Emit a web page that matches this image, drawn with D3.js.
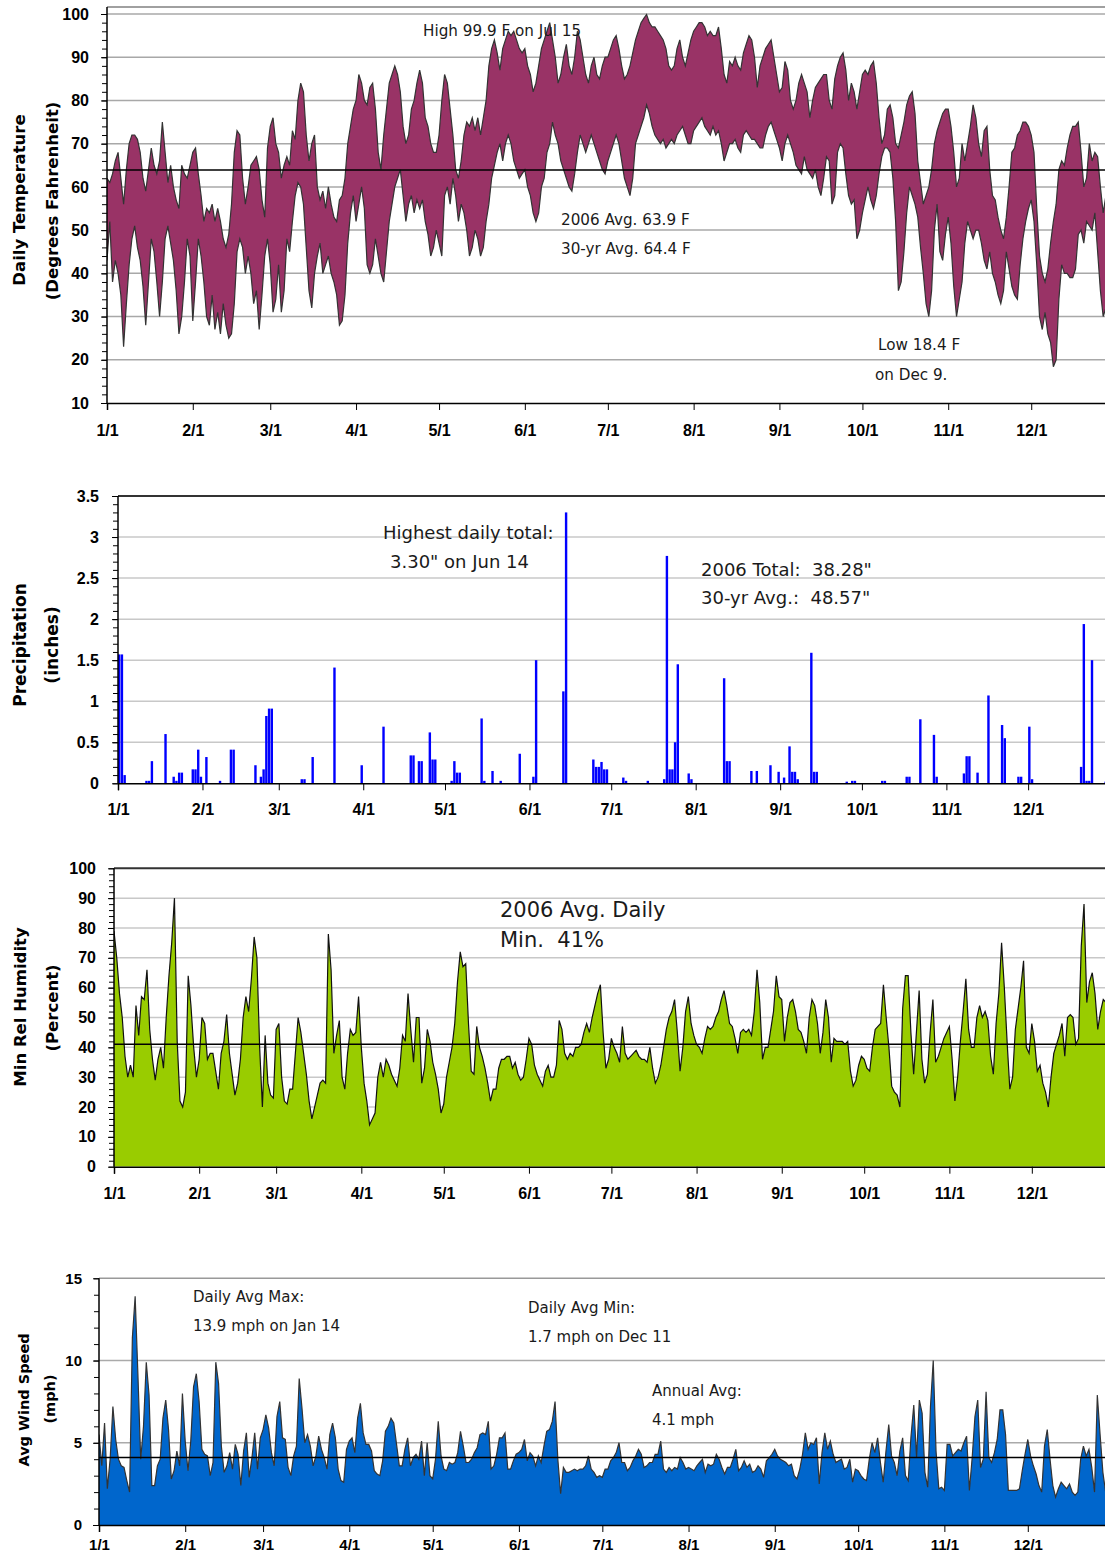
<!DOCTYPE html>
<html>
<head>
<meta charset="utf-8">
<script src="https://cdn.jsdelivr.net/npm/d3@7"></script>
<style>
  body { margin: 0; background: #fff; }
  svg { display: block; }
  .tick text { font-family: "Liberation Sans", Arial, sans-serif; font-weight: bold; fill: #000; }
  .note { font-family: "DejaVu Sans", Verdana, sans-serif; fill: #1a1a1a; white-space: pre; }
  .title { font-family: "DejaVu Sans", Verdana, sans-serif; font-weight: bold; fill: #000; }
</style>
</head>
<body>
<svg id="chart" width="1105" height="1556"></svg>
<script>
// ---- data (2006, one value per day) ----
const monthLabels = ["1/1","2/1","3/1","4/1","5/1","6/1","7/1","8/1","9/1","10/1","11/1","12/1"];

const tempHigh = [
  62,61,63,66,68,62,56,64,70,72,72,71,68,62,59,64,69,65,63,66,75,68,61,65,60,57,55,65,63,62,65,
  68,69,63,58,52,55,54,56,52,55,52,48,46,49,56,68,73,72,62,56,60,65,66,67,64,57,53,69,
  74,76,70,68,62,65,67,65,73,71,80,84,82,72,66,70,72,60,57,59,55,60,56,53,52,57,58,62,70,74,78,
  80,86,84,80,79,83,84,78,68,64,72,78,84,86,88,86,82,74,70,72,78,80,84,87,84,76,74,70,68,68,
  72,80,86,84,78,72,64,62,66,72,75,74,76,73,76,72,76,80,88,92,94,91,87,92,94,96,95,96,94,92,91,
  92,88,86,82,84,88,92,94,96,98,94,90,84,86,90,93,88,86,90,96,94,90,86,84,88,90,86,85,88,90,
  90,92,94,95,92,88,85,86,88,91,94,96,98,99,99.9,98,97,97,96,95,94,92,88,87,88,92,94,90,88,91,94,
  96,97,98,98,97,95,96,95,95,97,92,86,84,89,88,90,88,87,91,93,95,94,90,83,88,90,92,93,94,90,86,
  82,83,89,87,80,78,80,84,86,84,82,76,80,83,84,85,86,86,80,78,85,88,90,91,87,80,84,82,78,82,
  86,87,86,88,89,84,76,70,72,78,79,76,70,69,72,75,79,81,82,77,66,61,56,58,60,64,70,73,75,77,78,
  78,74,68,60,62,70,66,70,74,79,76,70,67,73,74,64,58,57,53,50,48,53,60,68,69,72,73,75,75,74,
  72,68,55,44,40,38,41,47,52,56,64,66,65,69,72,74,74,75,68,60,62,70,66,68,67,60,54,58,62,60,57
];
const tempLow = [
  43,52,38,43,40,35,23,33,42,48,51,46,43,37,28,38,48,45,38,30,38,48,51,47,43,36,26,30,38,48,44,
  29,38,48,44,38,30,28,35,27,31,26,33,28,25,26,33,45,48,46,40,44,40,33,36,27,35,44,48,
  42,31,34,42,31,36,48,45,52,58,61,60,56,46,36,32,40,44,47,40,42,44,40,38,35,28,29,35,47,54,58,
  52,56,60,55,42,40,42,48,44,40,38,45,52,56,60,62,64,58,52,56,58,54,57,55,57,52,49,44,46,50,
  47,44,58,60,56,62,58,52,56,54,50,44,46,50,48,44,46,52,56,62,65,68,70,66,70,72,70,66,64,62,63,
  64,60,58,54,52,54,60,62,68,70,75,72,70,66,64,62,60,59,63,68,72,70,68,70,72,70,68,66,64,63,
  66,68,70,72,70,66,62,60,58,62,70,72,74,76,79,77,74,72,71,70,71,69,70,71,70,72,73,74,72,70,70,
  73,74,75,76,74,73,72,74,72,73,70,66,68,70,70,71,69,68,72,73,72,71,71,70,69,69,72,74,75,73,71,
  69,66,70,72,70,68,65,64,63,67,64,63,62,64,60,58,62,67,66,56,58,68,70,69,63,58,56,57,48,50,
  54,57,60,57,55,58,63,67,69,69,68,62,52,36,38,45,54,60,58,56,53,46,40,33,30,36,50,56,45,43,49,
  53,47,37,30,34,38,47,52,50,48,50,50,47,43,41,45,40,38,35,33,36,45,41,37,35,34,42,48,52,55,
  57,52,42,30,27,31,26,24,18.4,20,34,42,40,40,39,39,41,49,50,47,52,51,50,54,45,36,30,32,38,44,46
];
const tempAvg = 63.9;

const precipDates = [
  "1/1","1/2","1/3","1/11","1/12","1/13","1/18","1/21","1/22","1/23","1/24","1/28","1/29","1/30","1/31",
  "2/2","2/7","2/11","2/12","2/20","2/22","2/23","2/24","2/25","2/26",
  "3/9","3/10","3/13","3/21","3/31",
  "4/8","4/18","4/19","4/21","4/22","4/25","4/26","4/27",
  "5/3","5/4","5/5","5/6","5/14","5/15","5/18","5/21","5/28",
  "6/2","6/3","6/13","6/14","6/24","6/25","6/26","6/27","6/28","6/29",
  "7/5","7/6","7/14","7/20","7/21","7/22","7/23","7/24","7/25","7/29","7/30",
  "8/11","8/12","8/13","8/21","8/23","8/28","8/31",
  "9/2","9/4","9/5","9/6","9/7","9/12","9/13","9/14","9/25","9/27","9/28",
  "10/8","10/9","10/17","10/18","10/22","10/27","10/28",
  "11/7","11/8","11/9","11/12","11/16","11/21","11/22","11/27","11/28",
  "12/1","12/2","12/20","12/21","12/22","12/23","12/24","12/29"
];
const precipInches = [
  1.57,1.57,0.10,0.03,0.03,0.27,0.60,0.08,0.03,0.13,0.13,0.17,0.17,0.41,0.08,
  0.32,0.03,0.41,0.41,0.22,0.08,0.17,0.82,0.91,0.91,
  0.05,0.05,0.32,1.41,0.22,
  0.69,0.34,0.34,0.27,0.27,0.62,0.29,0.29,
  0.03,0.27,0.13,0.13,0.79,0.03,0.15,0.03,0.36,
  0.08,1.50,1.12,3.30,0.29,0.20,0.20,0.26,0.17,0.17,
  0.07,0.03,0.03,0.05,2.77,0.17,0.17,0.50,1.45,0.12,0.05,
  1.28,0.27,0.27,0.15,0.15,0.22,0.14,
  0.07,0.45,0.14,0.14,0.05,1.59,0.14,0.14,0.02,0.03,0.03,
  0.03,0.03,0.08,0.08,0.78,0.59,0.08,
  0.12,0.33,0.33,0.13,1.07,0.71,0.55,0.08,0.08,
  0.69,0.05,0.20,1.94,0.03,0.03,1.50,0.02
];
const precipTicks = [0, 0.5, 1, 1.5, 2, 2.5, 3, 3.5];
const precipTickLabels = ["0", "0.5", "1", "1.5", "2", "2.5", "3", "3.5"];

const minHumidity = [
  79,70,58,50,37,30,34,30,54,44,57,56,66,46,36,29,36,40,33,50,64,75,90,42,22,20,25,64,54,40,30,
  36,50,48,36,38,38,32,26,38,42,51,38,31,24,28,36,50,57,52,63,77,70,40,20,44,28,24,23,
  46,48,30,22,21,26,26,38,50,45,38,31,22,16,20,24,28,29,28,78,66,38,44,49,30,26,38,46,44,45,57,
  40,28,22,14,16,18,30,35,30,36,34,31,29,27,33,44,42,58,46,35,50,50,28,33,46,42,35,31,26,18,
  21,30,35,40,48,62,72,67,68,48,32,31,47,40,37,33,28,22,26,26,33,36,36,37,37,33,35,31,29,30,36,
  43,41,34,31,29,27,32,34,30,30,34,49,46,38,36,38,37,40,40,41,45,48,45,50,54,58,61,45,33,36,
  43,40,38,35,47,38,36,37,38,39,37,36,36,35,40,33,28,30,34,40,46,50,52,56,45,32,40,52,57,48,44,
  41,40,38,43,47,46,47,50,52,56,59,54,48,47,43,38,45,46,45,46,44,52,66,55,36,40,40,46,52,64,57,
  56,42,50,55,56,52,46,45,42,38,50,56,54,48,38,45,56,50,35,43,42,42,42,41,42,32,27,29,34,37,
  36,33,32,40,46,47,48,61,50,40,27,25,24,20,53,64,64,45,31,45,59,36,28,31,45,56,35,37,40,43,45,
  47,36,22,30,42,52,63,46,40,40,50,54,50,52,49,37,31,48,58,75,60,42,26,30,46,53,60,69,40,38,
  48,42,32,34,28,25,20,30,38,41,44,48,37,50,51,50,41,43,74,88,55,62,65,58,46,52,56,55,50,48,52
];
const humidityAvg = 41;

const windSpeed = [
  5.5,3.6,6.2,2.2,4.0,7.2,5.2,4.0,3.6,3.5,2.7,2.0,11.4,13.9,9.1,4.0,6.0,9.9,7.9,2.4,2.4,3.6,4.0,6.5,7.6,5.8,2.8,3.3,4.5,3.6,8.0,
  5.1,3.3,5.1,8.4,9.2,7.5,4.6,4.3,4.2,3.0,3.8,9.9,8.6,4.8,3.2,3.6,4.4,3.4,4.9,4.3,2.4,4.5,5.6,2.9,4.1,5.6,3.4,5.3,
  5.8,6.7,5.9,4.4,3.6,6.6,7.5,5.3,5.2,3.5,3.0,4.2,4.8,8.9,7.1,5.0,5.5,4.8,3.6,4.2,5.4,4.6,4.1,3.4,5.5,6.2,5.3,3.4,2.7,2.6,4.6,
  5.1,5.3,4.4,6.5,7.4,5.6,4.9,4.9,4.5,3.3,3.1,3.0,3.9,5.7,6.0,6.5,6.2,4.9,3.6,3.6,4.6,5.3,3.6,4.1,4.3,4.0,5.1,3.0,5.0,3.0,
  2.8,4.0,6.3,4.2,3.4,3.3,3.8,3.7,3.8,4.4,5.7,4.8,3.8,3.8,4.0,4.4,4.7,5.5,5.6,5.5,6.3,3.4,3.6,4.3,5.3,5.3,5.6,3.4,3.4,3.9,4.3,
  4.4,4.6,5.2,3.9,4.4,4.2,3.6,4.2,3.8,4.8,5.7,5.8,6.3,7.5,4.0,1.9,3.5,3.2,3.2,3.3,3.4,3.3,3.4,3.4,3.6,4.2,3.4,3.2,2.9,3.0,
  2.9,3.4,3.4,3.9,4.1,4.4,5.0,3.8,3.8,3.3,3.5,3.9,4.2,4.6,4.3,3.5,3.6,3.8,3.8,4.3,4.3,5.1,3.4,3.2,3.5,3.3,3.5,3.4,4.1,3.8,3.4,
  3.5,3.4,3.3,3.6,3.8,4.0,3.2,3.7,3.6,3.7,4.3,4.0,3.5,3.1,3.5,3.5,4.0,4.6,3.3,3.5,3.9,3.5,3.7,3.2,3.3,3.6,3.4,2.9,3.9,4.1,4.3,
  4.6,4.2,4.0,3.9,3.8,3.6,3.7,3.0,2.8,3.4,4.3,5.6,4.6,5.0,4.9,5.3,2.5,4.4,5.6,4.6,5.1,4.3,3.8,3.9,4.0,3.4,3.5,4.0,2.6,3.4,
  3.3,3.0,2.8,2.7,4.0,5.0,4.4,5.3,3.8,2.6,4.5,6.1,4.2,3.8,3.0,4.5,5.3,3.0,2.7,5.4,7.3,4.1,7.6,6.8,3.2,2.3,7.2,10.0,4.5,2.2,2.3,
  2.1,4.9,4.9,4.2,4.4,4.6,4.5,5.0,5.4,2.1,4.1,6.6,7.6,3.5,4.0,8.1,4.1,3.8,4.4,5.2,7.0,7.0,5.5,2.1,2.1,2.1,2.1,2.2,3.3,4.3,
  5.2,4.2,3.6,3.1,2.4,2.0,4.8,5.8,4.0,2.4,1.7,2.2,2.6,2.4,2.2,2.5,2.0,1.8,2.0,4.0,4.8,4.2,4.6,3.5,2.0,7.9,5.5,3.2,2.0,2.5,3.0
];
const windAvg = 4.1;

// ---- drawing ----
const W = 1105;
const t0 = new Date(2006, 0, 1), t1 = new Date(2007, 0, 1);
const days = d3.timeDay.range(t0, t1);
const monthStarts = d3.timeMonth.range(t0, t1);
const parseDay = (s) => { const [m, d] = s.split("/"); return new Date(2006, +m - 1, +d); };
const seriesPoints = (vals) => days.map((d, i) => ({ date: d, v: vals[i] }));

const svg = d3.select("#chart");
svg.append("rect").attr("width", W).attr("height", 1556).attr("fill", "#fff");

function makePanel(cfg) {
  const x = d3.scaleTime().domain([t0, t1]).range([cfg.left, cfg.right]);
  const y = d3.scaleLinear().domain(cfg.domain).range([cfg.bottom, cfg.top]);
  const g = svg.append("g");

  svg.append("clipPath").attr("id", "clip-" + cfg.name)
    .append("rect")
    .attr("x", cfg.left).attr("y", cfg.frameTop)
    .attr("width", W - cfg.left).attr("height", cfg.bottom - cfg.frameTop);

  g.append("g").selectAll("line")
    .data(cfg.grid)
    .join("line")
    .attr("x1", cfg.left).attr("x2", W)
    .attr("y1", (d) => y(d)).attr("y2", (d) => y(d))
    .attr("stroke", cfg.gridColor)
    .attr("stroke-width", 1.5);

  g.append("line")
    .attr("x1", cfg.left).attr("x2", W)
    .attr("y1", cfg.frameTop).attr("y2", cfg.frameTop)
    .attr("stroke", cfg.frameColor)
    .attr("stroke-width", cfg.frameWidth);

  const plot = g.append("g").attr("clip-path", `url(#clip-${cfg.name})`);
  return { cfg, g, plot, x, y };
}

function finishPanel(p, avg) {
  const { cfg, g, x, y } = p;
  if (avg !== undefined) {
    g.append("line")
      .attr("x1", cfg.left).attr("x2", W)
      .attr("y1", y(avg)).attr("y2", y(avg))
      .attr("stroke", "#000").attr("stroke-width", 1.5);
  }

  // minor ticks
  g.append("g")
    .attr("transform", `translate(${cfg.left},0)`)
    .call(d3.axisLeft(y).tickValues(d3.range(cfg.domain[0], cfg.domain[1] + 1e-9, cfg.minorStep)).tickSize(5).tickFormat(""))
    .call((a) => a.select(".domain").remove())
    .call((a) => a.selectAll("line").attr("stroke", "#000"));

  // labelled ticks
  g.append("g")
    .attr("transform", `translate(${cfg.left},0)`)
    .call(d3.axisLeft(y).tickValues(cfg.ticks).tickSize(6).tickPadding(cfg.yPad)
      .tickFormat((d, i) => cfg.tickLabels ? cfg.tickLabels[i] : d))
    .call((a) => a.select(".domain").remove())
    .call((a) => a.selectAll("text").style("font-size", cfg.yFont + "px"));

  g.append("line")
    .attr("x1", cfg.left).attr("x2", cfg.left)
    .attr("y1", cfg.frameTop).attr("y2", cfg.bottom)
    .attr("stroke", "#000").attr("stroke-width", 1.5);

  g.append("g")
    .attr("transform", `translate(0,${cfg.bottom})`)
    .call(d3.axisBottom(x).tickValues(monthStarts).tickSize(7).tickPadding(cfg.xPad)
      .tickFormat((d, i) => monthLabels[i]))
    .call((a) => a.select(".domain").attr("stroke-width", 1.5))
    .call((a) => a.selectAll("text").style("font-size", cfg.xFont + "px"));

  cfg.titles.forEach((t) => {
    g.append("text")
      .attr("class", "title")
      .attr("transform", `translate(${t.x},${t.y}) rotate(-90)`)
      .attr("text-anchor", "middle")
      .attr("dy", "0.35em")
      .style("font-size", t.size + "px")
      .text(t.text);
  });

  g.selectAll(".note-" + cfg.name)
    .data(cfg.notes)
    .join("text")
    .attr("class", "note")
    .attr("xml:space", "preserve")
    .attr("x", (d) => d.x).attr("y", (d) => d.y)
    .attr("dy", "0.35em")
    .style("font-size", cfg.noteFont + "px")
    .text((d) => d.text);
}

// Temperature
const temp = makePanel({
  name: "temp", left: 107, right: 1117, top: 14, bottom: 403, frameTop: 7,
  frameColor: "#808080", frameWidth: 1.5, gridColor: "#a8a8a8",
  domain: [10, 100], grid: d3.range(20, 101, 10)
});
const tempPts = days.map((d, i) => ({ date: d, hi: tempHigh[i], lo: tempLow[i] }));
temp.plot.append("path")
  .datum(tempPts)
  .attr("fill", "#993366")
  .attr("d", d3.area()
    .x((d) => temp.x(d.date)).y0((d) => temp.y(d.lo)).y1((d) => temp.y(d.hi)));
["hi", "lo"].forEach((k) => {
  temp.plot.append("path")
    .datum(tempPts)
    .attr("fill", "none")
    .attr("stroke", "#333")
    .attr("stroke-width", 1.2)
    .attr("d", d3.line().x((d) => temp.x(d.date)).y((d) => temp.y(d[k])));
});
Object.assign(temp.cfg, {
  ticks: d3.range(10, 101, 10), minorStep: 2, yPad: 12, yFont: 16, xPad: 15, xFont: 16,
  titles: [
    { text: "Daily Temperature", x: 19.5, y: 200, size: 16.5 },
    { text: "(Degrees Fahrenheit)", x: 52.5, y: 201, size: 16.5 }
  ],
  noteFont: 15.2,
  notes: [
    { text: "High 99.9 F on Jul 15", x: 423, y: 31 },
    { text: "2006 Avg. 63.9 F", x: 561, y: 220 },
    { text: "30-yr Avg. 64.4 F", x: 561, y: 249 },
    { text: "Low 18.4 F", x: 878, y: 345 },
    { text: "on Dec 9.", x: 875, y: 375 }
  ]
});
finishPanel(temp, tempAvg);

// Precipitation
const precip = makePanel({
  name: "precip", left: 118, right: 1112.6, top: 496, bottom: 783.3, frameTop: 496,
  frameColor: "#333", frameWidth: 2, gridColor: "#c8c8c8",
  domain: [0, 3.5], grid: d3.range(0.5, 3.01, 0.5)
});
precip.plot.selectAll("rect")
  .data(precipDates.map((s, i) => ({ date: parseDay(s), v: precipInches[i] })))
  .join("rect")
  .attr("x", (d) => precip.x(d.date))
  .attr("width", 2.4)
  .attr("y", (d) => precip.y(d.v))
  .attr("height", (d) => precip.y(0) - precip.y(d.v))
  .attr("fill", "#0000ff");
Object.assign(precip.cfg, {
  ticks: precipTicks, tickLabels: precipTickLabels, minorStep: 0.1, yPad: 13, yFont: 16, xPad: 13, xFont: 16,
  titles: [
    { text: "Precipitation", x: 20, y: 645, size: 17 },
    { text: "(inches)", x: 52, y: 645, size: 17 }
  ],
  noteFont: 18,
  notes: [
    { text: "Highest daily total:", x: 383, y: 533 },
    { text: "3.30\" on Jun 14", x: 390, y: 562 },
    { text: "2006 Total:  38.28\"", x: 701, y: 570 },
    { text: "30-yr Avg.:  48.57\"", x: 701, y: 598 }
  ]
});
finishPanel(precip);

// Minimum relative humidity
const hum = makePanel({
  name: "hum", left: 114, right: 1117, top: 868.3, bottom: 1166.7, frameTop: 868.3,
  frameColor: "#333", frameWidth: 2, gridColor: "#c8c8c8",
  domain: [0, 100], grid: d3.range(10, 91, 10)
});
hum.plot.append("path")
  .datum(seriesPoints(minHumidity))
  .attr("fill", "#99cc00")
  .attr("d", d3.area().x((d) => hum.x(d.date)).y0(hum.y(0)).y1((d) => hum.y(d.v)));
hum.plot.append("path")
  .datum(seriesPoints(minHumidity))
  .attr("fill", "none").attr("stroke", "#111").attr("stroke-width", 1.2)
  .attr("d", d3.line().x((d) => hum.x(d.date)).y((d) => hum.y(d.v)));
Object.assign(hum.cfg, {
  ticks: d3.range(0, 101, 10), minorStep: 2, yPad: 12, yFont: 16, xPad: 14, xFont: 16,
  titles: [
    { text: "Min Rel Humidity", x: 20, y: 1007, size: 16.5 },
    { text: "(Percent)", x: 52.5, y: 1008, size: 16.5 }
  ],
  noteFont: 21,
  notes: [
    { text: "2006 Avg. Daily", x: 500, y: 910 },
    { text: "Min.  41%", x: 500, y: 940 }
  ]
});
finishPanel(hum, humidityAvg);

// Average wind speed
const wind = makePanel({
  name: "wind", left: 99, right: 1114, top: 1278.3, bottom: 1525, frameTop: 1278.3,
  frameColor: "#999", frameWidth: 1.5, gridColor: "#aaa",
  domain: [0, 15], grid: [5, 10]
});
wind.plot.append("path")
  .datum(seriesPoints(windSpeed))
  .attr("fill", "#0066cc")
  .attr("d", d3.area().x((d) => wind.x(d.date)).y0(wind.y(0)).y1((d) => wind.y(d.v)));
wind.plot.append("path")
  .datum(seriesPoints(windSpeed))
  .attr("fill", "none").attr("stroke", "#333").attr("stroke-width", 1.2)
  .attr("d", d3.line().x((d) => wind.x(d.date)).y((d) => wind.y(d.v)));
Object.assign(wind.cfg, {
  ticks: [0, 5, 10, 15], minorStep: 1, yPad: 11, yFont: 15, xPad: 7, xFont: 15,
  titles: [
    { text: "Avg Wind Speed", x: 23.5, y: 1400, size: 14.5 },
    { text: "(mph)", x: 50, y: 1399, size: 14.5 }
  ],
  noteFont: 15,
  notes: [
    { text: "Daily Avg Max:", x: 193, y: 1297 },
    { text: "13.9 mph on Jan 14", x: 193, y: 1326 },
    { text: "Daily Avg Min:", x: 528, y: 1308 },
    { text: "1.7 mph on Dec 11", x: 528, y: 1337 },
    { text: "Annual Avg:", x: 652, y: 1391 },
    { text: "4.1 mph", x: 652, y: 1420 }
  ]
});
finishPanel(wind, windAvg);

[tempHigh, tempLow, minHumidity, windSpeed].forEach((a, i) => {
  if (a.length !== 365) throw new Error("series " + i + " has " + a.length + " values");
});
if (precipDates.length !== precipInches.length) throw new Error("precip length mismatch");
</script>
</body>
</html>
